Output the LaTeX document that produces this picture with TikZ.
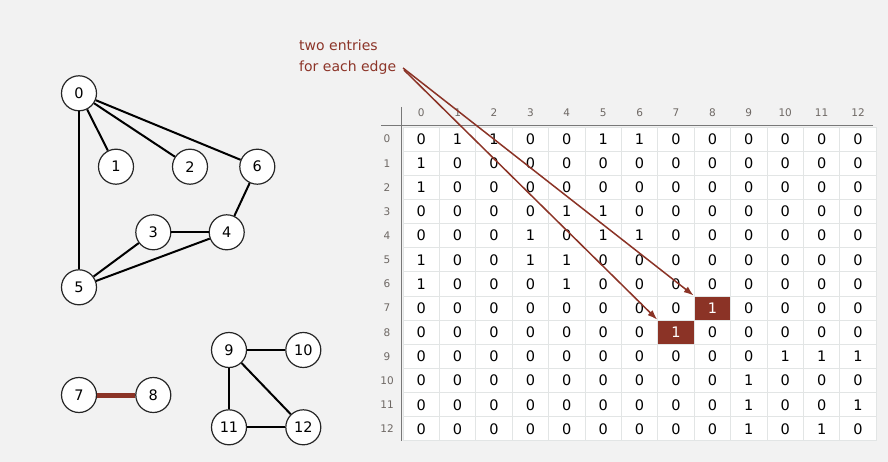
\documentclass[tikz,border=0pt]{standalone}
\usepackage{fontspec}
\setmainfont{DejaVu Sans}
\usetikzlibrary{arrows.meta}
\definecolor{bg}{RGB}{242,242,242}
\definecolor{hred}{RGB}{139,51,38}
\definecolor{notered}{RGB}{140,52,40}
\definecolor{gridc}{RGB}{226,229,229}
\definecolor{labc}{RGB}{110,104,100}
\definecolor{axisc}{RGB}{120,120,120}
\tikzset{
  vert/.style={circle,draw=black!85,line width=1.2pt,fill=white,minimum size=35pt,inner sep=0pt,font=\fontsize{14.5}{16}\selectfont},
  edge/.style={line width=2pt,black},
  redge/.style={line width=5pt,hred},
  cell/.style={draw=gridc,line width=1pt,fill=white,minimum width=36.4pt,minimum height=24.15pt,inner sep=0pt,font=\fontsize{14.5}{16}\selectfont},
  hcell/.style={cell,fill=hred,text=white},
  lab/.style={text=labc,inner sep=0pt,font=\fontsize{10.5}{12}\selectfont},
  note/.style={text=notered,align=left,inner sep=0pt,font=\fontsize{14}{21}\selectfont},
  ptr/.style={draw=hred,line width=1.5pt,-{Latex[length=10pt,width=7pt]}}
}
\begin{document}
\begin{tikzpicture}[x=1pt,y=-1pt]
\path[fill=bg,use as bounding box] (0,0) rectangle (888,462);
% graph
\node[vert] (v0) at (79,93.3) {0};
\node[vert] (v1) at (116,166.7) {1};
\node[vert] (v2) at (190,166.7) {2};
\node[vert] (v6) at (257.3,166.7) {6};
\node[vert] (v3) at (153.3,232.3) {3};
\node[vert] (v4) at (226.7,232.3) {4};
\node[vert] (v5) at (79,287.3) {5};
\node[vert] (v7) at (79,395) {7};
\node[vert] (v8) at (153.3,395) {8};
\node[vert] (v9) at (229,350) {9};
\node[vert] (v10) at (303.3,350) {10};
\node[vert] (v11) at (229,427.3) {11};
\node[vert] (v12) at (303.3,427.3) {12};
\draw[edge] (v0) -- (v1);
\draw[edge] (v0) -- (v2);
\draw[edge] (v0) -- (v6);
\draw[edge] (v0) -- (v5);
\draw[edge] (v6) -- (v4);
\draw[edge] (v3) -- (v4);
\draw[edge] (v3) -- (v5);
\draw[edge] (v4) -- (v5);
\draw[redge] (v7) -- (v8);
\draw[edge] (v9) -- (v10);
\draw[edge] (v9) -- (v11);
\draw[edge] (v9) -- (v12);
\draw[edge] (v11) -- (v12);
% matrix
\foreach \row [count=\i from 0] in {
  {0,1,1,0,0,1,1,0,0,0,0,0,0},
  {1,0,0,0,0,0,0,0,0,0,0,0,0},
  {1,0,0,0,0,0,0,0,0,0,0,0,0},
  {0,0,0,0,1,1,0,0,0,0,0,0,0},
  {0,0,0,1,0,1,1,0,0,0,0,0,0},
  {1,0,0,1,1,0,0,0,0,0,0,0,0},
  {1,0,0,0,1,0,0,0,0,0,0,0,0},
  {0,0,0,0,0,0,0,0,1,0,0,0,0},
  {0,0,0,0,0,0,0,1,0,0,0,0,0},
  {0,0,0,0,0,0,0,0,0,0,1,1,1},
  {0,0,0,0,0,0,0,0,0,1,0,0,0},
  {0,0,0,0,0,0,0,0,0,1,0,0,1},
  {0,0,0,0,0,0,0,0,0,1,0,1,0}} {
  \foreach \v [count=\j from 0] in \row {
    \node[cell] (m-\i-\j) at (421.2+36.4*\j,139.1+24.15*\i) {\v};
  }
  \node[lab] (r-\i) at (387,139.1+24.15*\i) {\i};
}
\foreach \j in {0,...,12} {
  \node[lab] (c-\j) at (421.2+36.4*\j,113) {\j};
}
\node[hcell] (h78) at (m-7-8) {1};
\node[hcell] (h87) at (m-8-7) {1};
\coordinate (xa) at (401.5,107);
\coordinate (xb) at (401.5,441);
\coordinate (ya) at (381,125.5);
\coordinate (yb) at (873,125.5);
\draw[axisc,line width=1.5pt] (xa) -- (xb);
\draw[axisc,line width=1.5pt] (ya) -- (yb);
% annotation
\node[note,anchor=north west] (note) at (299,40) {two entries\\for each edge};
\coordinate (s1) at (403,68);
\coordinate (s2) at (404,70);
\draw[ptr] (s1) -- (h78.north west);
\draw[ptr] (s2) -- (h87.north west);
\end{tikzpicture}
\end{document}
